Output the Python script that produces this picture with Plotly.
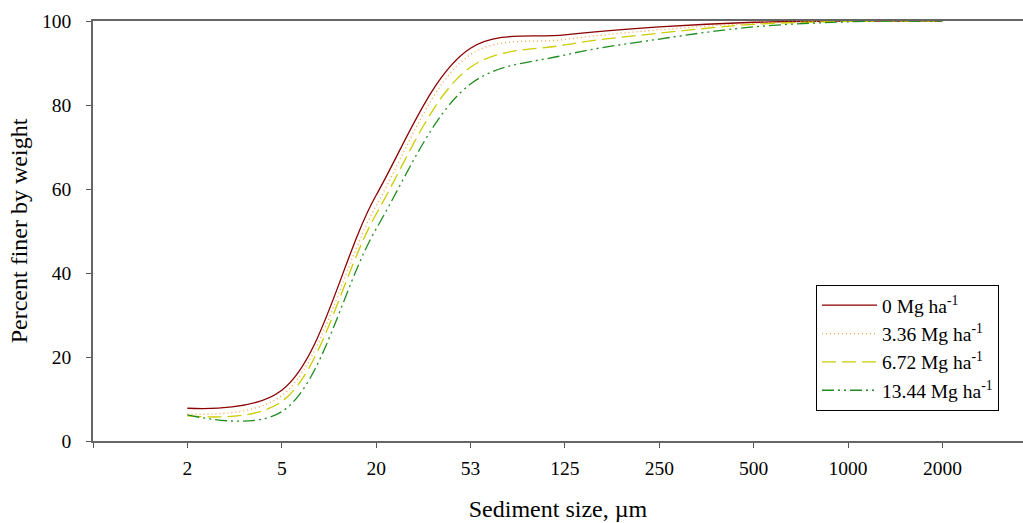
import plotly.graph_objects as go

sizes = ["2", "5", "20", "53", "125", "250", "500", "1000", "2000"]
s0 = [7.8, 12.1, 58.5, 93.5, 96.7, 98.6, 99.7, 100, 100]
s336 = [6.4, 10.8, 56.0, 92.0, 95.6, 97.9, 99.4, 100, 100]
s672 = [6.0, 9.4, 54.0, 89.0, 94.3, 97.1, 99.2, 99.9, 100]
s1344 = [6.2, 7.0, 50.5, 85.0, 91.9, 95.7, 98.6, 99.8, 100]
names = ["0 Mg ha<sup>-1</sup>", "3.36 Mg ha<sup>-1</sup>",
         "6.72 Mg ha<sup>-1</sup>", "13.44 Mg ha<sup>-1</sup>"]
colors = ["#8B0000", "#FFA040", "#CCCC00", "#1E8C1E"]
dashes = ["solid", "1px,3px", "14px,6px", "12px,4px,2px,4px,2px,4px"]

xpos = list(range(len(sizes)))
font = "Liberation Serif"

fig = go.Figure()
for ys, nm, c, d in zip([s0, s336, s672, s1344], names, colors, dashes):
    fig.add_trace(go.Scatter(x=xpos, y=ys, mode="lines", name=nm,
                             line=dict(color=c, width=1.3, dash=d,
                                       shape="spline", smoothing=1.0)))

fig.update_layout(
    width=1023, height=523,
    margin=dict(l=93, r=0, t=21, b=82),
    paper_bgcolor="white", plot_bgcolor="white",
    font=dict(family=font, size=19.5, color="black"),
    showlegend=True,
    legend=dict(x=(816 - 93) / 930, y=(441 - 285) / 420, xanchor="left", yanchor="top",
                bordercolor="black", borderwidth=1, bgcolor="white",
                font=dict(family=font, size=19.5), tracegroupgap=0,
                itemwidth=55),
    xaxis=dict(range=[-1, 8.854], tickmode="array",
               tickvals=[-1] + xpos, ticktext=[""] + sizes,
               ticks="outside", ticklen=5, tickcolor="#555", tickwidth=1,
               showline=True, linecolor="#666", linewidth=1.5, mirror=True,
               showgrid=False, zeroline=False, ticklabelstandoff=4,
               title=dict(text="Sediment size, µm", font=dict(size=24), standoff=22)),
    yaxis=dict(range=[0, 100], tickvals=[0, 20, 40, 60, 80, 100],
               ticks="outside", ticklen=5, tickcolor="#555", tickwidth=1,
               showline=True, linecolor="#666", linewidth=1.5, mirror=False,
               showgrid=False, zeroline=False, ticklabelstandoff=11,
               title=dict(text="Percent finer by weight", font=dict(size=24), standoff=8)),
)

fig.write_html("out.html", config={"displayModeBar": False},
               post_script="document.body.style.margin='0';")
